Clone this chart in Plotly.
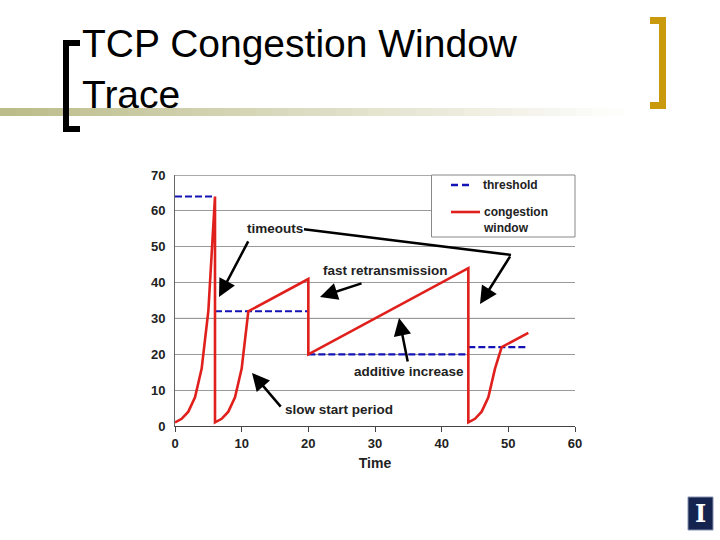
import plotly.graph_objects as go

# ---- data ----
time_cwnd = [0, 1, 2, 3, 4, 5, 6, 6, 7, 8, 9, 10, 11, 20, 20, 44, 44, 45, 46, 47, 48, 49, 53]
cwnd = [1, 2, 4, 8, 16, 32, 64, 1, 2, 4, 8, 16, 32, 41, 20, 44, 1, 2, 4, 8, 16, 22, 26]

time_thresh = [0, 6, None, 6, 20, None, 20, 44, None, 44, 53]
thresh = [64, 64, None, 32, 32, None, 20, 20, None, 22, 22]

x_ticks = [0, 10, 20, 30, 40, 50, 60]
y_ticks = [0, 10, 20, 30, 40, 50, 60, 70]

# ---- layout geometry (pixels) ----
W, H = 720, 540
L, R, T, B = 175, 575, 175, 426


def px(x):
    return (x - L) / (R - L)


def py(y):
    return (B - y) / (B - T)


FONT = "Liberation Sans, Arial, sans-serif"
TXT = "#222222"
RED = "#e0201c"
BLUE = "#1414b4"

fig = go.Figure()
fig.add_trace(go.Scatter(x=time_thresh, y=thresh, mode="lines", name="threshold",
                         line=dict(color=BLUE, width=2.2, dash="7px,3px"),
                         showlegend=False, connectgaps=False))
fig.add_trace(go.Scatter(x=time_cwnd, y=cwnd, mode="lines", name="congestion window",
                         line=dict(color=RED, width=2.6), showlegend=False))

shapes = []
annotations = []

# darker gridline at 30 and top line
shapes.append(dict(type="line", xref="x", yref="y", x0=0, x1=60, y0=30, y1=30,
                   line=dict(color="#111111", width=1), layer="below"))
shapes.append(dict(type="line", xref="x", yref="y", x0=0, x1=60, y0=70, y1=70,
                   line=dict(color="#555555", width=1), layer="below"))

# manual legend box
shapes.append(dict(type="rect", xref="paper", yref="paper",
                   x0=px(431.5), x1=px(575), y0=py(237), y1=py(175),
                   line=dict(color="#888888", width=1), fillcolor="white", layer="above"))
shapes.append(dict(type="line", xref="paper", yref="paper",
                   x0=px(451), x1=px(471), y0=py(185), y1=py(185),
                   line=dict(color=BLUE, width=2.4, dash="7px,4px")))
shapes.append(dict(type="line", xref="paper", yref="paper",
                   x0=px(451), x1=px(480), y0=py(212), y1=py(212),
                   line=dict(color=RED, width=2.6)))
annotations.append(dict(xref="paper", yref="paper", x=px(481), y=py(185), xanchor="left",
                        yanchor="middle", showarrow=False, text="threshold",
                        font=dict(family=FONT, size=12, color=TXT, weight="bold")))
annotations.append(dict(xref="paper", yref="paper", x=px(481), y=py(220), xanchor="left",
                        yanchor="middle", showarrow=False, text="congestion<br>window",
                        align="left",
                        font=dict(family=FONT, size=12, color=TXT, weight="bold")))

# chart labels
labels = [
    ("timeouts", 15.07, 55.2),
    ("fast retransmission", 31.5, 43.5),
    ("additive increase", 35.1, 15.3),
    ("slow start period", 24.6, 4.7),
]
for text, x, y in labels:
    annotations.append(dict(xref="x", yref="y", x=x, y=y, text=text, showarrow=False,
                            font=dict(family=FONT, size=13.5, color=TXT, weight="bold")))

arrows = [
    (11.1, 51.9, 6.6, 36.0),
    (50.4, 47.7, 45.75, 34.0),
    (28.2, 39.9, 21.75, 36.0),
    (34.95, 17.6, 33.6, 30.1),
    (16.05, 5.0, 11.55, 14.8),
]
for ax, ay, x, y in arrows:
    annotations.append(dict(xref="x", yref="y", axref="x", ayref="y", x=x, y=y, ax=ax, ay=ay,
                            text="", showarrow=True, arrowhead=2, arrowsize=1.4,
                            arrowwidth=2.5, arrowcolor="#000000", standoff=0, startstandoff=0))
shapes.append(dict(type="line", xref="x", yref="y", x0=19.35, y0=54.9, x1=50.4, y1=47.7,
                   line=dict(color="#000000", width=2.5)))

# ---- slide decorations ----
# gradient bar
n = 40
x_start, x_end = 0, 640
c0 = (188, 188, 138)
for i in range(n):
    f = i / (n - 1)
    c = tuple(int(round(c0[k] + (255 - c0[k]) * f)) for k in range(3))
    xa = x_start + (x_end - x_start) * i / n
    xb = x_start + (x_end - x_start) * (i + 1) / n + 0.5
    shapes.append(dict(type="rect", xref="paper", yref="paper", x0=px(xa), x1=px(xb),
                       y0=py(116), y1=py(108), line=dict(width=0),
                       fillcolor="rgb(%d,%d,%d)" % c, layer="below"))

# left black bracket
for (xa, xb, ya, yb) in [(63, 69, 40, 132), (63, 80, 40, 46), (63, 80, 126, 132)]:
    shapes.append(dict(type="rect", xref="paper", yref="paper", x0=px(xa), x1=px(xb),
                       y0=py(yb), y1=py(ya), line=dict(width=0), fillcolor="#000000"))
# right gold bracket
GOLD = "#c99a0e"
for (xa, xb, ya, yb) in [(659, 666, 17, 109), (650, 666, 17, 24), (650, 666, 102, 109)]:
    shapes.append(dict(type="rect", xref="paper", yref="paper", x0=px(xa), x1=px(xb),
                       y0=py(yb), y1=py(ya), line=dict(width=0), fillcolor=GOLD))

# logo
shapes.append(dict(type="rect", xref="paper", yref="paper", x0=px(688), x1=px(713),
                   y0=py(530), y1=py(497), line=dict(color="#8890b0", width=1),
                   fillcolor="#15234f"))
annotations.append(dict(xref="paper", yref="paper", x=px(700.5), y=py(513.5), text="I",
                        showarrow=False, xanchor="center", yanchor="middle",
                        font=dict(family="DejaVu Serif, serif", size=24, color="white",
                                  weight="bold")))

# title
annotations.append(dict(xref="paper", yref="paper", x=px(80), y=py(20), xanchor="left",
                        yanchor="top", align="left", showarrow=False,
                        text="TCP Congestion Window<br>Trace",
                        font=dict(family=FONT, size=39, color="#000000")))

fig.update_layout(
    width=W, height=H,
    margin=dict(l=L, r=W - R, t=T, b=H - B, pad=0),
    paper_bgcolor="white", plot_bgcolor="white",
    shapes=shapes, annotations=annotations,
    xaxis=dict(range=[0, 60], tickvals=x_ticks, showgrid=False, zeroline=False,
               showline=True, linecolor="#444444", linewidth=1,
               ticks="outside", ticklen=5, tickcolor="#444444",
               tickfont=dict(family=FONT, size=13, color=TXT, weight="bold"),
               title=dict(text="Time", standoff=8,
                          font=dict(family=FONT, size=14, color=TXT, weight="bold"))),
    yaxis=dict(range=[0, 70], tickvals=y_ticks, showgrid=True, gridcolor="#9a9a9a",
               gridwidth=1, zeroline=False, showline=True, linecolor="#666666",
               linewidth=1, ticks="", ticklabelstandoff=6,
               tickfont=dict(family=FONT, size=13, color=TXT, weight="bold")),
    font=dict(family=FONT),
)

fig.write_html("out.html", config={"displayModeBar": False},
               post_script="document.body.style.margin='0';document.body.style.overflow='hidden';")
